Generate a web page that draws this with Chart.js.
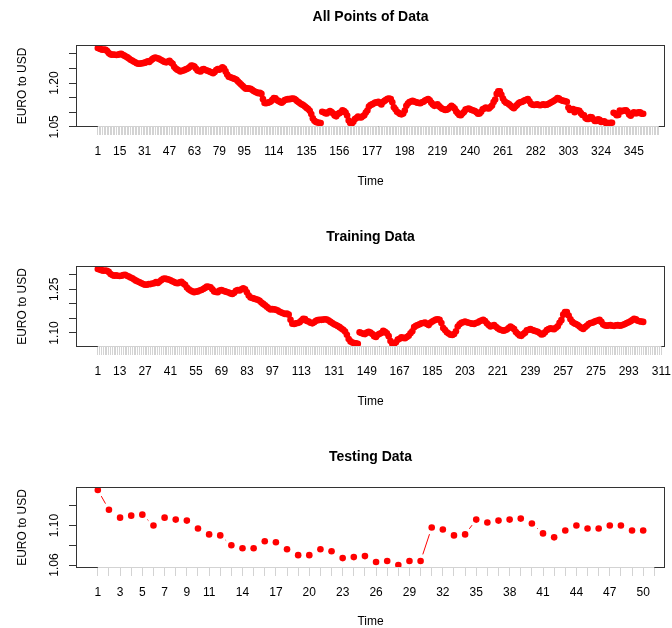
<!DOCTYPE html>
<html>
<head>
<meta charset="utf-8">
<script src="https://cdn.jsdelivr.net/npm/chart.js@4.4.0/dist/chart.umd.min.js"></script>
<style>
  html, body { margin: 0; padding: 0; background: #fff; overflow: hidden; }
  #wrap { position: relative; width: 672px; height: 628px; }
  .panel { position: absolute; left: 0; width: 672px; height: 200px; }
</style>
</head>
<body>
<div id="wrap">
  <div class="panel" style="top:0px"><canvas id="chartAll" width="672" height="200"></canvas></div>
  <div class="panel" style="top:220px"><canvas id="chartTrain" width="672" height="200"></canvas></div>
  <div class="panel" style="top:440px"><canvas id="chartTest" width="672" height="200"></canvas></div>
</div>
<script>
// EURO to USD, training part (1..301)
const trainValues = [
  1.320, 1.318, 1.316, 1.314, 1.315, 1.314, 1.310, 1.303, 1.299, 1.297,
  1.298, 1.297, 1.296, 1.297, 1.299, 1.300, 1.297, 1.294, 1.291, 1.288,
  1.284, 1.280, 1.277, 1.274, 1.271, 1.268, 1.266, 1.266, 1.268, 1.268,
  1.270, 1.271, 1.275, 1.272, 1.277, 1.282, 1.286, 1.287, 1.285, 1.284,
  1.281, 1.278, 1.275, 1.272, 1.271, 1.274, 1.276, 1.270, 1.266, 1.256,
  1.250, 1.246, 1.243, 1.240, 1.242, 1.243, 1.246, 1.248, 1.251, 1.255,
  1.260, 1.259, 1.257, 1.250, 1.243, 1.241, 1.240, 1.246, 1.248, 1.245,
  1.243, 1.241, 1.239, 1.236, 1.234, 1.238, 1.245, 1.248, 1.246, 1.250,
  1.254, 1.250, 1.240, 1.229, 1.222, 1.220, 1.218, 1.216, 1.214, 1.211,
  1.205, 1.200, 1.195, 1.190, 1.185, 1.181, 1.182, 1.181, 1.180, 1.177,
  1.173, 1.170, 1.168, 1.165, 1.167, 1.163, 1.145, 1.132, 1.131, 1.133,
  1.134, 1.137, 1.143, 1.149, 1.148, 1.141, 1.139, 1.135, 1.133, 1.137,
  1.142, 1.144, 1.145, 1.145, 1.146, 1.147, 1.146, 1.143, 1.138, 1.134,
  1.130, 1.127, 1.124, 1.120, 1.115, 1.111, 1.105, 1.094, 1.079, 1.071,
  1.067, 1.065, 1.064, 1.063, 1.102, 1.100, 1.097, 1.096, 1.101, 1.104,
  1.101, 1.096, 1.089, 1.086, 1.094, 1.097, 1.100, 1.107, 1.104, 1.099,
  1.089, 1.072, 1.063, 1.062, 1.068, 1.077, 1.080, 1.085, 1.083, 1.082,
  1.086, 1.090, 1.099, 1.106, 1.120, 1.125, 1.127, 1.130, 1.133, 1.134,
  1.136, 1.131, 1.127, 1.135, 1.139, 1.143, 1.146, 1.147, 1.145, 1.134,
  1.117, 1.110, 1.102, 1.098, 1.094, 1.093, 1.096, 1.106, 1.122, 1.130,
  1.135, 1.137, 1.139, 1.137, 1.135, 1.133, 1.132, 1.131, 1.134, 1.136,
  1.140, 1.143, 1.145, 1.141, 1.133, 1.127, 1.122, 1.125, 1.127, 1.121,
  1.116, 1.112, 1.110, 1.108, 1.109, 1.112, 1.117, 1.122, 1.118, 1.113,
  1.103, 1.097, 1.091, 1.090, 1.096, 1.101, 1.109, 1.111, 1.113, 1.110,
  1.108, 1.106, 1.104, 1.100, 1.095, 1.096, 1.102, 1.110, 1.113, 1.116,
  1.114, 1.113, 1.118, 1.123, 1.135, 1.144, 1.163, 1.172, 1.172, 1.160,
  1.147, 1.138, 1.133, 1.131, 1.127, 1.122, 1.117, 1.114, 1.120, 1.125,
  1.131, 1.134, 1.135, 1.138, 1.141, 1.143, 1.145, 1.138, 1.129, 1.126,
  1.125, 1.126, 1.127, 1.125, 1.124, 1.126, 1.127, 1.125, 1.126, 1.128,
  1.131, 1.134, 1.137, 1.140, 1.144, 1.149, 1.147, 1.142, 1.140, 1.139,
  1.138
];

// testing part (last 50)
const testValues = [
  1.136, 1.116, 1.108, 1.110, 1.111, 1.100, 1.108, 1.106, 1.105, 1.097,
  1.091, 1.090, 1.080, 1.077, 1.077, 1.084, 1.083, 1.076, 1.070, 1.070,
  1.076, 1.074, 1.067, 1.068, 1.069, 1.063, 1.064, 1.060, 1.064, 1.064,
  1.098, 1.096, 1.090, 1.091, 1.106, 1.103, 1.105, 1.106, 1.107, 1.102,
  1.092, 1.088, 1.095, 1.100, 1.097, 1.097, 1.100, 1.100, 1.095, 1.095
];

const allValues = trainValues.concat(testValues);

// etiquetas visibles del eje x
const xLabelsAll = [1, 15, 31, 47, 63, 79, 95, 114, 135, 156, 177, 198, 219, 240, 261, 282, 303, 324, 345];
const xLabelsTrain = [1, 13, 27, 41, 55, 69, 83, 97, 113, 131, 149, 167, 185, 203, 221, 239, 257, 275, 293, 311];
const xLabelsTest = [1, 3, 5, 7, 9, 11, 14, 17, 20, 23, 26, 29, 32, 35, 38, 41, 44, 47, 50];

// ticks del eje y y cuales llevan texto
const yTicksAll = [1.05, 1.10, 1.15, 1.20, 1.25, 1.30];
const yLabelsAll = [1.05, 1.20];
const yTicksTrain = [1.10, 1.15, 1.20, 1.25, 1.30];
const yLabelsTrain = [1.10, 1.25];
const yTicksTest = [1.06, 1.08, 1.10, 1.12];
const yLabelsTest = [1.06, 1.10];

const FONT = '"Liberation Sans", Arial, sans-serif';
const GAP = 7; // hueco alrededor de cada punto (type = "b")

// caja, linea gris del eje x y titulo del panel
const rBox = {
  id: 'rBox',
  afterDraw(chart, args, opts) {
    const { ctx, chartArea: a } = chart;
    const xs = chart.scales.x;
    const t = xs.ticks;
    ctx.save();
    ctx.lineWidth = 1;
    ctx.strokeStyle = '#333';
    ctx.strokeRect(a.left + 0.5, a.top + 0.5, a.right - a.left - 1, a.bottom - a.top - 1);
    ctx.strokeStyle = '#d3d3d3';
    ctx.beginPath();
    ctx.moveTo(xs.getPixelForValue(t[0].value), a.bottom - 0.5);
    ctx.lineTo(xs.getPixelForValue(t[t.length - 1].value), a.bottom - 0.5);
    ctx.stroke();
    ctx.fillStyle = '#000';
    ctx.font = 'bold 14px ' + FONT;
    ctx.textAlign = 'center';
    ctx.textBaseline = 'middle';
    ctx.fillText(opts.text, (a.left + a.right) / 2, 17);
    ctx.restore();
  }
};

function segDash(ctx) {
  const L = Math.hypot(ctx.p1.x - ctx.p0.x, ctx.p1.y - ctx.p0.y);
  if (L <= 2 * GAP) return [0, L + 1];
  return [0, GAP, L - 2 * GAP, GAP];
}

function makePanel(id, title, values, xLabels, yTicks, yLabels, padTop, boxBottom) {
  const n = values.length;
  const xmin = 1 - 0.04 * (n - 1);
  const xmax = n + 0.04 * (n - 1);
  const lastTick = Math.min(n + 10, Math.floor(xmax));
  const xTicks = [];
  for (let i = 1; i <= lastTick; i++) xTicks.push(i);

  const lo = Math.min(...values);
  const hi = Math.max(...values);
  const ext = (hi - lo) * 0.04;

  return new Chart(document.getElementById(id), {
    type: 'line',
    data: {
      datasets: [{
        data: values.map((v, i) => ({ x: i + 1, y: v })),
        borderColor: '#ff0000',
        borderWidth: 1,
        pointRadius: 3.3,
        pointHoverRadius: 3.3,
        pointBackgroundColor: '#ff0000',
        pointBorderWidth: 0,
        tension: 0,
        segment: { borderDash: segDash }
      }]
    },
    plugins: [rBox],
    options: {
      responsive: false,
      animation: false,
      events: [],
      layout: { padding: { top: padTop, right: 7, bottom: 0, left: 0 } },
      plugins: {
        legend: { display: false },
        tooltip: { enabled: false },
        rBox: { text: title }
      },
      scales: {
        x: {
          type: 'linear',
          min: xmin,
          max: xmax,
          bounds: 'data',
          afterBuildTicks: s => { s.ticks = xTicks.map(v => ({ value: v })); },
          afterFit: s => { s.height = 200 - boxBottom; s.paddingLeft = 0; s.paddingRight = 0; },
          grid: { drawOnChartArea: false, tickLength: 8, color: '#d3d3d3' },
          border: { display: false },
          ticks: {
            autoSkip: false,
            minRotation: 0,
            maxRotation: 0,
            padding: 9,
            color: '#000',
            font: { family: FONT, size: 12 },
            callback: v => xLabels.includes(v) ? String(v) : ''
          },
          title: {
            display: true,
            text: 'Time',
            color: '#000',
            font: { family: FONT, size: 12 },
            padding: { top: 0, bottom: 11 }
          }
        },
        y: {
          type: 'linear',
          min: lo - ext,
          max: hi + ext,
          bounds: 'data',
          afterBuildTicks: s => { s.ticks = yTicks.map(v => ({ value: v })); },
          afterFit: s => { s.width = 76; s.paddingTop = 0; s.paddingBottom = 0; },
          grid: { drawOnChartArea: false, tickLength: 7, color: '#333' },
          border: { display: false },
          ticks: {
            autoSkip: false,
            minRotation: 90,
            maxRotation: 90,
            crossAlign: 'center',
            padding: 3,
            color: '#000',
            font: { family: FONT, size: 12 },
            callback: v => yLabels.some(l => Math.abs(l - v) < 1e-6) ? v.toFixed(2) : ''
          },
          title: {
            display: true,
            text: 'EURO to USD',
            color: '#000',
            font: { family: FONT, size: 12 },
            padding: { top: 15, bottom: 0 }
          }
        }
      }
    }
  });
}

makePanel('chartAll', 'All Points of Data', allValues, xLabelsAll, yTicksAll, yLabelsAll, 45, 127);
makePanel('chartTrain', 'Training Data', trainValues, xLabelsTrain, yTicksTrain, yLabelsTrain, 46, 127);
makePanel('chartTest', 'Testing Data', testValues, xLabelsTest, yTicksTest, yLabelsTest, 47, 128);
</script>
</body>
</html>
